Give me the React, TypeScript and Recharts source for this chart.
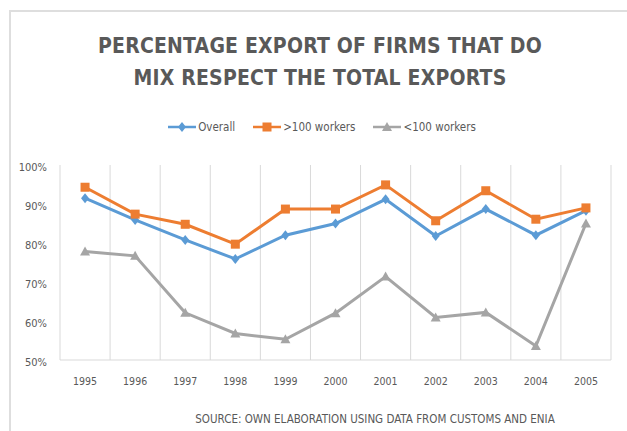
import { LineChart, Line, XAxis, YAxis, CartesianGrid } from 'recharts';

const years = [1995, 1996, 1997, 1998, 1999, 2000, 2001, 2002, 2003, 2004, 2005];
const overall = [91.5, 85.9, 80.8, 75.9, 82.0, 85.0, 91.2, 81.8, 88.7, 82.0, 88.3];
const large = [94.3, 87.4, 84.8, 79.7, 88.7, 88.7, 94.9, 85.7, 93.4, 86.1, 89.0];
const small = [77.8, 76.7, 62.1, 56.8, 55.3, 62.0, 71.4, 60.9, 62.2, 53.6, 85.0];
const yTicks = [50, 60, 70, 80, 90, 100];

const data = years.map((year, i) => ({
  year,
  overall: overall[i],
  large: large[i],
  small: small[i],
}));

const BLUE = '#5B9BD5';
const ORANGE = '#ED7D31';
const GRAY = '#A5A5A5';
const TEXT = '#595959';
const FONT = '"DejaVu Sans Condensed", "Liberation Sans Narrow", sans-serif';

const Marker = ({ shape, color, cx, cy }: { shape: string; color: string; cx: number; cy: number }) => {
  if (shape === 'diamond') {
    return <polygon points={`${cx},${cy - 5} ${cx + 4},${cy} ${cx},${cy + 5} ${cx - 4},${cy}`} fill={color} />;
  }
  if (shape === 'square') {
    return <rect x={cx - 4.5} y={cy - 4.5} width={9} height={9} fill={color} />;
  }
  return <polygon points={`${cx},${cy - 5} ${cx + 5},${cy + 4} ${cx - 5},${cy + 4}`} fill={color} />;
};

const series = [
  { key: 'overall', name: 'Overall', color: BLUE, shape: 'diamond' },
  { key: 'large', name: '>100 workers', color: ORANGE, shape: 'square' },
  { key: 'small', name: '<100 workers', color: GRAY, shape: 'triangle' },
];

const boundaries = ({ offset }: any) => {
  const step = offset.width / years.length;
  return years.map((_, i) => offset.left + step * i).concat([offset.left + offset.width]);
};

const App = () => {
  return (
    <div style={{ position: 'fixed', left: 0, top: 0, width: 627, height: 431, background: '#fff' }}>
      <div
        style={{
          position: 'absolute',
          left: 9,
          top: 10,
          right: 0,
          bottom: 0,
          borderLeft: '2px solid #dedede',
          borderTop: '2px solid #dedede',
        }}
      />
      <div
        style={{
          position: 'absolute',
          left: 0,
          top: 30,
          width: 640,
          textAlign: 'center',
          fontFamily: FONT,
          fontWeight: 'bold',
          fontSize: 21,
          letterSpacing: 0.2,
          lineHeight: '32px',
          color: TEXT,
        }}
      >
        PERCENTAGE EXPORT OF FIRMS THAT DO
        <br />
        MIX RESPECT THE TOTAL EXPORTS
      </div>
      <div
        style={{
          position: 'absolute',
          left: 0,
          top: 120,
          width: 644,
          display: 'flex',
          justifyContent: 'center',
          fontFamily: FONT,
          fontSize: 11.5,
          color: TEXT,
        }}
      >
        {series.map((s) => (
          <div key={s.key} style={{ display: 'flex', alignItems: 'center', margin: '0 9px' }}>
            <svg width={28} height={12}>
              <line x1={0} y1={6} x2={28} y2={6} stroke={s.color} strokeWidth={2.5} />
              <Marker shape={s.shape} color={s.color} cx={14} cy={6} />
            </svg>
            <span style={{ marginLeft: 2 }}>{s.name}</span>
          </div>
        ))}
      </div>
      <LineChart
        width={627}
        height={431}
        data={data}
        margin={{ top: 165, right: 16, bottom: 41, left: 0 }}
        style={{ position: 'absolute', left: 0, top: 0 }}
      >
        <CartesianGrid
          horizontal={false}
          stroke="#d9d9d9"
          verticalCoordinatesGenerator={boundaries}
        />
        <XAxis
          dataKey="year"
          type="number"
          domain={[1994.5, 2005.5]}
          ticks={years}
          axisLine={{ stroke: '#d9d9d9' }}
          tickLine={false}
          tick={{ fill: TEXT, fontSize: 10.5, fontFamily: FONT }}
          tickMargin={12}
          height={30}
        />
        <YAxis
          domain={[50, 100]}
          ticks={yTicks}
          tickFormatter={(v: number) => `${v}%`}
          axisLine={false}
          tickLine={false}
          tick={{ fill: TEXT, fontSize: 11, fontFamily: FONT, dy: 2 }}
          width={60}
          tickMargin={7}
        />
        {series.map((s) => (
          <Line
            key={s.key}
            dataKey={s.key}
            name={s.name}
            stroke={s.color}
            strokeWidth={3}
            isAnimationActive={false}
            dot={(p: any) => <Marker key={`${s.key}-${p.index}`} shape={s.shape} color={s.color} cx={p.cx} cy={p.cy} />}
          />
        ))}
      </LineChart>
      <div
        style={{
          position: 'absolute',
          left: 194,
          top: 412,
          width: 362,
          fontFamily: FONT,
          fontSize: 11.5,
          color: TEXT,
          whiteSpace: 'nowrap',
          display: 'flex',
          justifyContent: 'center',
        }}
      >
        SOURCE: OWN ELABORATION USING DATA FROM CUSTOMS AND ENIA
      </div>
    </div>
  );
};

export default App;
